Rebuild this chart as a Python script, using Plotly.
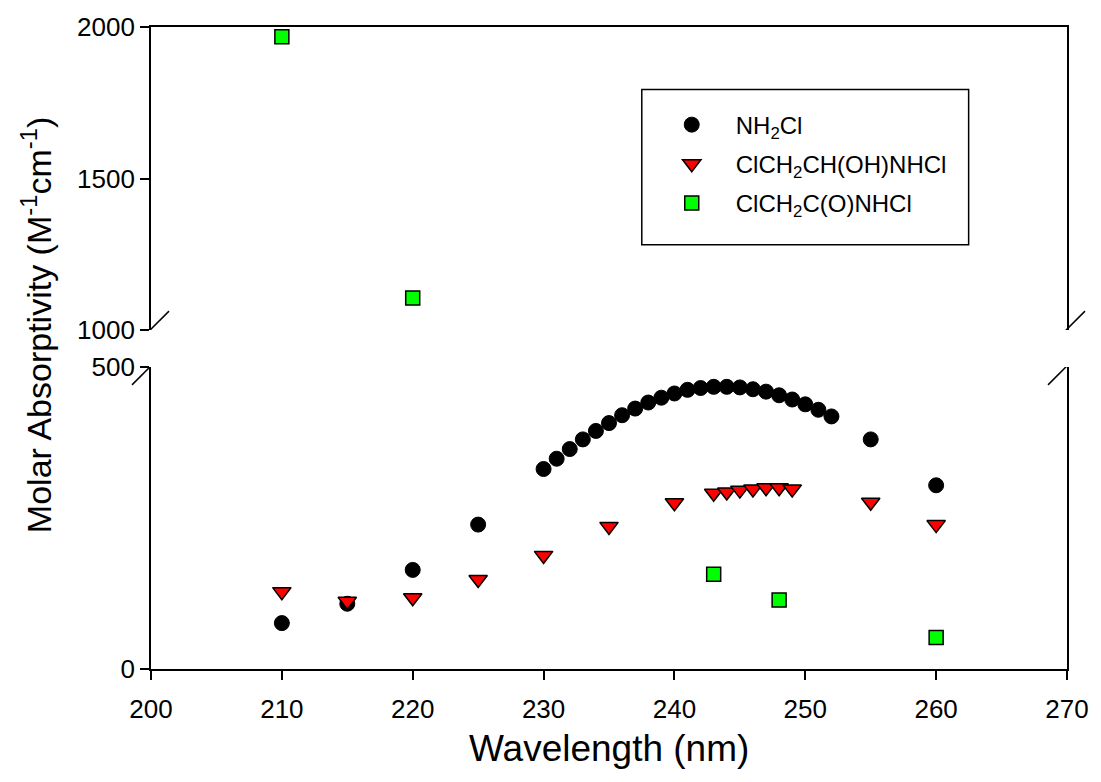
import plotly.graph_objects as go

# ---------------- data ----------------
nh2cl_wl = [210, 215, 220, 225, 230, 231, 232, 233, 234, 235, 236, 237, 238, 239, 240,
            241, 242, 243, 244, 245, 246, 247, 248, 249, 250, 251, 252, 255, 260]
nh2cl_eps = [76, 108, 164, 239, 331, 348, 364, 380, 394, 407, 420, 431, 441, 449, 456,
             462, 465, 467, 467, 466, 463, 459, 453, 446, 438, 429, 418, 380, 304]

cl_oh_wl = [210, 215, 220, 225, 230, 235, 240, 243, 244, 245, 246, 247, 248, 249, 255, 260]
cl_oh_eps = [128, 112, 118, 148, 188, 236, 275, 291, 293, 296, 298, 300, 300, 298, 276, 239]

cl_o_wl = [210, 220, 243, 248, 260]
cl_o_eps = [1968, 1106, 157, 114, 52]

names = ["NH<sub>2</sub>Cl", "ClCH<sub>2</sub>CH(OH)NHCl", "ClCH<sub>2</sub>C(O)NHCl"]

lower_ticks = [0, 500]
upper_ticks = [1000, 1500, 2000]
x_ticks = [200, 210, 220, 230, 240, 250, 260, 270]

FONT = "Arial, Liberation Sans, sans-serif"

series = [
    (nh2cl_wl, nh2cl_eps, names[0], dict(symbol="circle", size=15, color="black",
                                          line=dict(color="black", width=1))),
    (cl_oh_wl, cl_oh_eps, names[1], dict(symbol="triangle-down", size=16, color="#FF0000",
                                          line=dict(color="black", width=1.5))),
    (cl_o_wl, cl_o_eps, names[2], dict(symbol="square", size=14, color="#00FF00",
                                        line=dict(color="black", width=1.5))),
]

fig = go.Figure()
for i, (wl, eps, nm, mk) in enumerate(series):
    fig.add_trace(go.Scatter(x=wl, y=eps, mode="markers", name=nm, marker=mk,
                             xaxis="x", yaxis="y", legendgroup=str(i)))
    fig.add_trace(go.Scatter(x=wl, y=eps, mode="markers", name=nm, marker=mk,
                             xaxis="x2", yaxis="y2", legendgroup=str(i), showlegend=False))

H_PLOT = 646.0
lower_dom = [0, 304.0 / H_PLOT]
upper_dom = [(669 - 328) / H_PLOT, 1]

axis_common = dict(showline=True, linecolor="black", linewidth=1.8, showgrid=False,
                   zeroline=False, ticks="outside", ticklen=9, tickwidth=1.8,
                   tickcolor="black", tickfont=dict(family=FONT, size=26, color="black"))

fig.update_layout(
    width=1101, height=782,
    margin=dict(l=151, r=28, t=23, b=113),
    paper_bgcolor="white", plot_bgcolor="white",
    font=dict(family=FONT, color="black"),
    xaxis=dict(range=[200, 270], tickvals=x_ticks, anchor="y", ticklabelstandoff=7,
               **axis_common),
    xaxis2=dict(range=[200, 270], matches="x", anchor="y2", side="top", showline=True,
                linecolor="black", linewidth=1.8, showgrid=False, zeroline=False,
                showticklabels=False, ticks=""),
    yaxis=dict(range=[0, 500], tickvals=lower_ticks, domain=lower_dom, anchor="x",
               mirror=True, **axis_common),
    yaxis2=dict(range=[1000, 2000], tickvals=upper_ticks, domain=upper_dom, anchor="x2",
                mirror=True, **axis_common),
    showlegend=True,
    legend=dict(x=(651 - 151) / 922, y=1 - (99 - 23) / H_PLOT, xanchor="left", yanchor="top",
                bgcolor="rgba(0,0,0,0)", borderwidth=0,
                font=dict(family=FONT, size=24, color="black"),
                itemwidth=78, tracegroupgap=5),
)

# legend frame
fig.add_shape(type="rect", xref="paper", yref="paper",
              x0=(645 - 151) / 922, x1=(974 - 151) / 922,
              y0=(669 - 242) / H_PLOT, y1=(669 - 86) / H_PLOT,
              line=dict(color="black", width=1.5), fillcolor="rgba(0,0,0,0)")

# axis break marks
for xa in (0, 1):
    for yr, ya in (("y2", 1000), ("y", 500)):
        fig.add_shape(type="line", xref="paper", xsizemode="pixel", xanchor=xa,
                      x0=-19, x1=18, yref=yr, ysizemode="pixel", yanchor=ya,
                      y0=-18, y1=19, line=dict(color="black", width=1.5))

# axis titles
fig.add_annotation(text="Wavelength (nm)", xref="paper", yref="paper", x=0.5, y=0,
                   xanchor="center", yanchor="middle", yshift=-79, showarrow=False,
                   font=dict(family=FONT, size=37, color="black"))
fig.add_annotation(text="Molar Absorptivity (M<sup>-1</sup>cm<sup>-1</sup>)",
                   xref="paper", yref="paper", x=0, y=(669 - 323) / H_PLOT,
                   xanchor="center", yanchor="middle", xshift=-115, textangle=-90,
                   showarrow=False, font=dict(family=FONT, size=34, color="black"))

fig.write_html("out.html")
